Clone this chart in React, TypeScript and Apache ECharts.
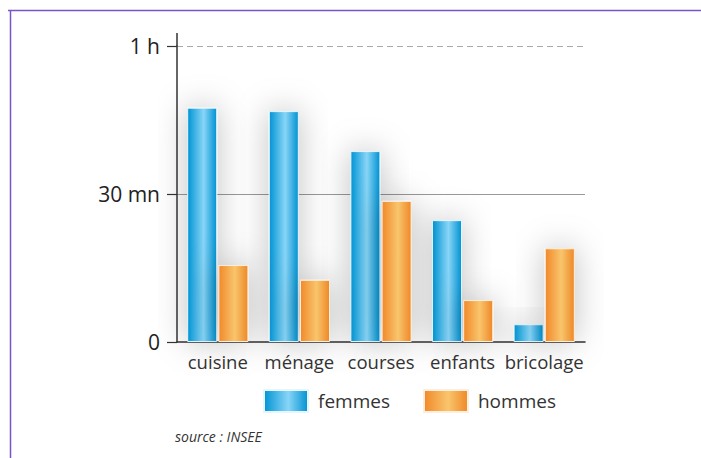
import React, { useEffect, useRef } from "react";
import * as echarts from "echarts";

const categories = ["cuisine", "ménage", "courses", "enfants", "bricolage"];
const femmes = [47.5, 46.8, 38.7, 24.7, 3.6];
const hommes = [15.6, 12.6, 28.6, 8.5, 19];
const yTicks: Record<number, string> = { 0: "0", 30: "30 mn", 60: "1 h" };
const seriesNames = ["femmes", "hommes"];
const sourceText = "source : INSEE";

const FONT = "'Open Sans', 'Noto Sans', sans-serif";

const blueGrad = new echarts.graphic.LinearGradient(0, 0, 1, 0, [
  { offset: 0, color: "#0094d4" },
  { offset: 0.55, color: "#88d5f7" },
  { offset: 1, color: "#0092d2" },
]);
const orangeGrad = new echarts.graphic.LinearGradient(0, 0, 1, 0, [
  { offset: 0, color: "#f1892a" },
  { offset: 0.55, color: "#f9c56c" },
  { offset: 1, color: "#ee8827" },
]);

export default function App() {
  const ref = useRef<HTMLDivElement>(null);
  useEffect(() => {
    if (!ref.current) return;
    const chart = echarts.init(ref.current, null, { renderer: "svg" });
    const shadow = {
      shadowBlur: 32,
      shadowColor: "rgba(0,0,0,0.25)",
      shadowOffsetX: 0,
      shadowOffsetY: 0,
    };
    chart.setOption({
      animation: false,
      backgroundColor: "#fff",
      textStyle: { fontFamily: FONT },
      grid: { left: 177, right: 116, top: 46, bottom: 116 },
      legend: {
        left: 263,
        top: 389,
        padding: 0,
        icon: "rect",
        itemWidth: 44,
        itemHeight: 22,
        itemGap: 33,
        data: seriesNames,
        textStyle: {
          fontFamily: FONT,
          fontSize: 19,
          color: "#333",
          padding: [0, 0, 0, 5],
        },
      },
      xAxis: {
        type: "category",
        data: categories,
        axisLine: { lineStyle: { color: "#333", width: 1.5 } },
        axisTick: { show: false },
        axisLabel: {
          interval: 0,
          fontSize: 18.5,
          color: "#333",
          margin: 10,
          fontFamily: FONT,
          hideOverlap: false,
        },
      },
      yAxis: {
        type: "value",
        min: 0,
        max: 60,
        interval: 30,
        axisLine: { show: true, lineStyle: { color: "#333", width: 1.5 } },
        axisTick: { show: true, length: 10, lineStyle: { color: "#333", width: 1.2 } },
        axisLabel: {
          fontSize: 21,
          color: "#222",
          margin: 17,
          fontFamily: FONT,
          formatter: (v: number) => yTicks[v] ?? "",
        },
        splitLine: { show: false },
      },
      series: [
        {
          name: seriesNames[0],
          type: "bar",
          data: femmes,
          barWidth: 30,
          barGap: "4%",
          itemStyle: { color: blueGrad, borderColor: "#e6f6fd", borderWidth: 1, ...shadow },
          markLine: {
            silent: true,
            symbol: "none",
            label: { show: false },
            z: 0,
            data: [
              { yAxis: 30, lineStyle: { color: "#999", type: "solid", width: 1 } },
              { yAxis: 60, lineStyle: { color: "#aaa", type: [6, 4], width: 1 } },
            ],
          },
        },
        {
          name: seriesNames[1],
          type: "bar",
          data: hommes,
          barWidth: 30,
          itemStyle: { color: orangeGrad, borderColor: "#fdeedd", borderWidth: 1, ...shadow },
        },
      ],
      graphic: [
        {
          type: "line",
          shape: { x1: 177, y1: 33, x2: 177, y2: 46 },
          style: { stroke: "#333", lineWidth: 1.5 },
        },
        {
          type: "line",
          shape: { x1: 8, y1: 10.5, x2: 701, y2: 10.5 },
          style: { stroke: "#7a55c8", lineWidth: 1.5 },
        },
        {
          type: "line",
          shape: { x1: 10.5, y1: 10, x2: 10.5, y2: 458 },
          style: { stroke: "#7a55c8", lineWidth: 1.5 },
        },
        {
          type: "text",
          x: 175,
          y: 429,
          style: {
            text: sourceText,
            fontFamily: FONT,
            fontStyle: "italic",
            fontSize: 14,
            fill: "#333",
          },
        },
      ],
    });
    return () => chart.dispose();
  }, []);
  return (
    <div
      ref={ref}
      style={{ position: "fixed", left: 0, top: 0, width: 701, height: 458 }}
    />
  );
}
